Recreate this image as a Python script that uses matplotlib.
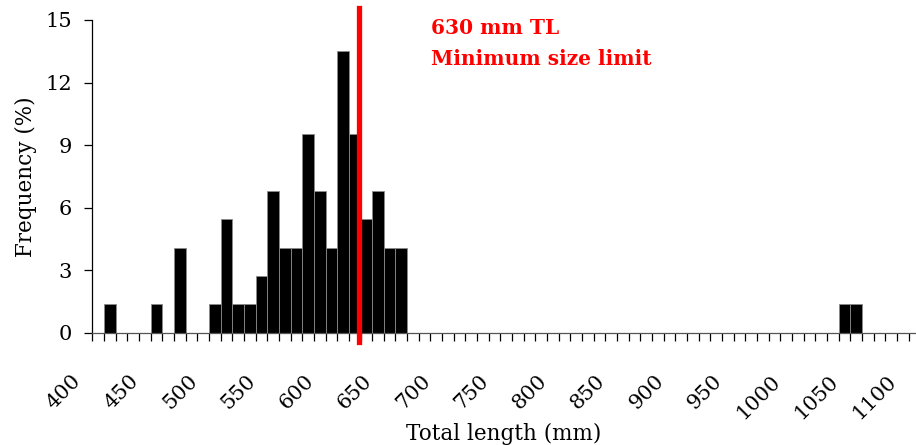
import matplotlib.pyplot as plt
from matplotlib.transforms import ScaledTranslation

# Length-frequency data (10 mm bins, value = bin start)
bin_start = [410, 450, 470, 500, 510, 520, 530, 540, 550, 560, 570,
             580, 590, 600, 610, 620, 630, 640, 650, 660, 1040, 1050]
freq_pct = [1.37, 1.37, 4.09, 1.37, 5.45, 1.37, 1.37, 2.73, 6.8, 4.09, 4.09,
            9.52, 6.8, 4.09, 13.5, 9.52, 5.45, 6.8, 4.09, 4.09, 1.37, 1.37]

size_limit = 629
limit_text = "630 mm TL\nMinimum size limit"
tick_pos = list(range(400, 1101, 10))
tick_lab = [str(v) if v % 50 == 0 else "" for v in tick_pos]

plt.rcParams["font.family"] = ["DejaVu Serif"]

fig = plt.figure(figsize=(9.16, 4.45), dpi=100)
ax = fig.add_axes([0.1008, 0.2517, 0.8992, 0.7034])

ax.bar(bin_start, freq_pct, width=10, align="edge", color="black",
       edgecolor="#8a8a8a", linewidth=0.6, zorder=2)

# minimum size limit
ax.axvline(size_limit, ymin=-0.028, ymax=1.037, color="#ff0000", lw=3.8,
           clip_on=False, zorder=3)
ax.text(0.411, 1.005, limit_text, transform=ax.transAxes, color="#ff0000",
        fontsize=14.5, fontweight="bold", va="top", ha="left", linespacing=1.67)

ax.set_xlim(400, 1106.4)
ax.set_ylim(0, 15)
ax.set_yticks([0, 3, 6, 9, 12, 15])
ax.set_xticks(tick_pos)
ax.set_xticklabels(tick_lab, rotation=45, ha="right", va="top")

for s in ["top", "right"]:
    ax.spines[s].set_visible(False)
ax.spines["left"].set_linewidth(0.9)
ax.spines["bottom"].set_linewidth(0.9)
ax.spines["bottom"].set_color("#555555")

ax.tick_params(axis="y", direction="out", length=5.5, width=0.9,
               labelsize=15, pad=9)
ax.tick_params(axis="x", direction="out", length=5.5, width=0.9,
               labelsize=15, pad=22)

shift = ScaledTranslation(-8 / 100, 0, fig.dpi_scale_trans)
for lbl in ax.get_xticklabels():
    lbl.set_transform(lbl.get_transform() + shift)

ax.set_xlabel("Total length (mm)", fontsize=15.5, labelpad=0)
ax.set_ylabel("Frequency (%)", fontsize=15.5, labelpad=6)

fig.savefig("out.png", dpi=100)
